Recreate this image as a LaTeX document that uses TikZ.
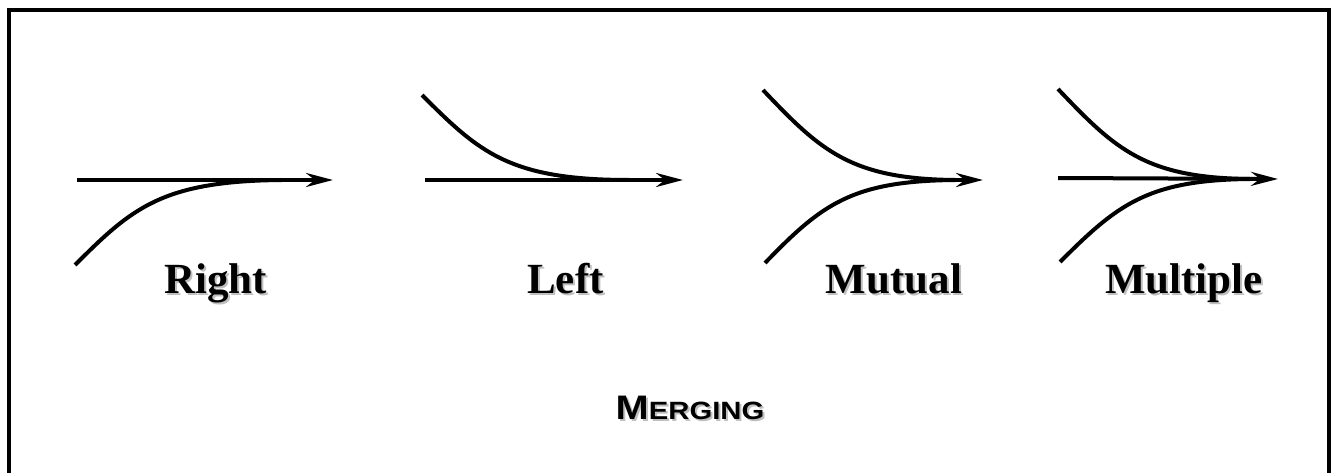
\documentclass[tikz,border=0pt]{standalone}
\usepackage{fontspec}
\usetikzlibrary{arrows.meta}
\newfontfamily\lblfont{Liberation Serif}
\newfontfamily\ttlfont{Liberation Sans}
\tikzset{
  flow/.style={line width=4pt, line cap=butt},
  arr/.style={flow, -{Stealth[length=27pt, width=14pt, inset=9pt]}},
  lbl/.style={anchor=base, inner sep=0pt, font=\lblfont\bfseries\fontsize{43}{43}\selectfont},
  shd/.style={text=black!25},
  frame/.style={line width=4.6pt}
}
\newcommand{\mergetitle}{\scalebox{1.17}[1.0]{\ttlfont\bfseries\fontsize{34}{34}\selectfont M\fontsize{25}{25}\selectfont ERGING}}
\begin{document}
\begin{tikzpicture}[x=1pt, y=-1pt]
\clip (0,0) rectangle (1336,473);
\fill[white] (0,0) rectangle (1336,473);
\draw[frame] (9,10) rectangle (1329,500);

% ---- Right ----
\coordinate (r0) at (77,180);
\coordinate (rt) at (333,180);
\coordinate (rb) at (75,265);
\coordinate (rm) at (282,180);
\draw[arr] (r0) -- (rt);
\draw[flow] (rb) .. controls (132,208) and (162,181) .. (rm);

% ---- Left ----
\coordinate (l0) at (425,180);
\coordinate (lt) at (683,180);
\coordinate (la) at (422,95);
\coordinate (lm) at (629,180);
\draw[arr] (l0) -- (lt);
\draw[flow] (la) .. controls (479,152) and (509,180) .. (lm);

% ---- Mutual ----
\coordinate (ma) at (763,90);
\coordinate (mb) at (765,263);
\coordinate (mm) at (955,180);
\coordinate (mt) at (983,180);
\draw[flow] (ma) .. controls (820,150) and (850,179) .. (mm);
\draw[flow] (mb) .. controls (822,204) and (852,181) .. (mm);
\draw[arr] (mm) -- (mt);

% ---- Multiple ----
\coordinate (p0) at (1058,178);
\coordinate (pt) at (1278,179);
\coordinate (pa) at (1058,89);
\coordinate (pb) at (1060,262);
\coordinate (pm) at (1250,179);
\draw[arr] (p0) -- (pt);
\draw[flow] (pa) .. controls (1115,149) and (1145,178) .. (pm);
\draw[flow] (pb) .. controls (1117,205) and (1147,180) .. (pm);

% ---- labels ----
\node[lbl, shd] (rights) at (217.5,295) {Right};
\node[lbl] (right) at (215.5,293) {Right};
\node[lbl, shd] (lefts) at (567.5,295) {Left};
\node[lbl] (left) at (565.5,293) {Left};
\node[lbl, shd] (mutuals) at (896,295) {Mutual};
\node[lbl] (mutual) at (894,293) {Mutual};
\node[lbl, shd] (multiples) at (1186,295) {Multiple};
\node[lbl] (multiple) at (1184,293) {Multiple};

\node[anchor=base, inner sep=0pt, text=black!25] (titles) at (692,421) {\mergetitle};
\node[anchor=base, inner sep=0pt] (title) at (690,419) {\mergetitle};
\end{tikzpicture}
\end{document}
